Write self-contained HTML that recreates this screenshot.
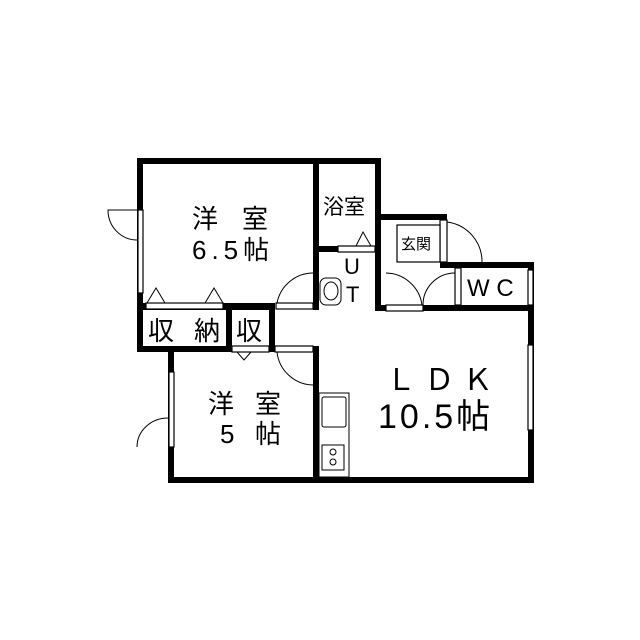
<!DOCTYPE html>
<html><head><meta charset="utf-8"><style>
html,body{margin:0;padding:0;background:#fff;}
svg{display:block}
text{font-family:"Liberation Sans","Noto Sans CJK JP",sans-serif;fill:#000}
</style></head><body>
<svg width="640" height="640" viewBox="0 0 640 640" xmlns="http://www.w3.org/2000/svg">
<rect width="640" height="640" fill="#fff"/>
<g fill="#000">
<rect x="137" y="158" width="244" height="6"/>
<rect x="137" y="158" width="6" height="194"/>
<rect x="137" y="303" width="138" height="7"/>
<rect x="313" y="158" width="6" height="152"/>
<rect x="375" y="158" width="6" height="153"/>
<rect x="313" y="246" width="25" height="6"/>
<rect x="137" y="346" width="138" height="6"/>
<rect x="226" y="303" width="6" height="49"/>
<rect x="269" y="303" width="6" height="49"/>
<rect x="375" y="214" width="72" height="6"/>
<rect x="440" y="262" width="94" height="6"/>
<rect x="455" y="262" width="6" height="8"/>
<rect x="375" y="305" width="159" height="6"/>
<rect x="528" y="262" width="6" height="221"/>
<rect x="168" y="346" width="6" height="137"/>
<rect x="168" y="477" width="366" height="6"/>
<rect x="313" y="346" width="6" height="137"/>
<rect x="269" y="346" width="50" height="6"/>
</g>
<g fill="#fff" stroke="#000" stroke-width="1.2">
<rect x="138" y="210" width="5" height="83"/>
<rect x="169" y="372" width="5" height="75"/>
<rect x="528" y="345" width="5" height="85"/>
<rect x="528" y="270" width="5" height="35"/>
<rect x="146" y="303" width="77" height="6"/>
<rect x="276" y="303" width="37" height="6"/>
<rect x="338" y="246" width="37" height="6"/>
<rect x="386" y="305" width="37" height="6"/>
<rect x="232" y="346" width="37" height="6"/>
<rect x="275" y="346" width="38" height="6"/>
<rect x="440" y="220" width="7" height="42"/>
<rect x="455" y="268" width="6" height="37"/>
<rect x="397" y="225" width="43" height="37"/>
</g>
<g fill="none" stroke="#000" stroke-width="1">
<path d="M137 210 L108 210 A29 30 0 0 0 137 240"/>
<path d="M137 447 A31 29 0 0 1 168 418"/>
<path d="M313 273 A37 37 0 0 0 277 303"/>
<path d="M277 352 A37 37 0 0 0 313 385"/>
<path d="M447 222 A40 40 0 0 1 482 262"/>
<path d="M386 273 A37 37 0 0 1 422 305"/>
<path d="M455 273 A32 32 0 0 0 423 305"/>
<path d="M147 303 L156 288 L165 303"/>
<path d="M205 303 L214 288 L223 303"/>
<path d="M356 246 L363 232 L371 246"/>
<path d="M237 352 L244 360 L251 352"/>
<rect x="320" y="278" width="21" height="27" rx="6"/>
<ellipse cx="331" cy="291" rx="7" ry="9"/>
<rect x="319" y="393" width="30" height="84"/>
<rect x="322" y="397" width="24" height="30" rx="2"/>
<rect x="322" y="445" width="22" height="25"/>
<circle cx="333" cy="452" r="3"/><circle cx="333" cy="462" r="3"/>
</g>
<g font-size="26">
<text x="192" y="228">洋</text><text x="242" y="228">室</text>
<text x="192" y="259" letter-spacing="5">6.5帖</text>
<text x="208" y="413">洋</text><text x="255" y="413">室</text>
<text x="220" y="443">5</text><text x="255" y="443">帖</text>
<text x="148" y="340">収</text><text x="194" y="340">納</text><text x="236" y="340">収</text>
<text x="386" y="390" font-size="30">Ｌ Ｄ Ｋ</text>
<text x="378" y="428" font-size="34" letter-spacing="3">10.5帖</text>
<text x="323" y="214" font-size="21">浴室</text>
<text x="344" y="274" font-size="22">U</text>
<text x="346" y="302" font-size="22">T</text>
<text x="401" y="249" font-size="15">玄関</text>
<text x="467" y="296" font-size="24">W C</text>
</g>
</svg>
</body></html>
